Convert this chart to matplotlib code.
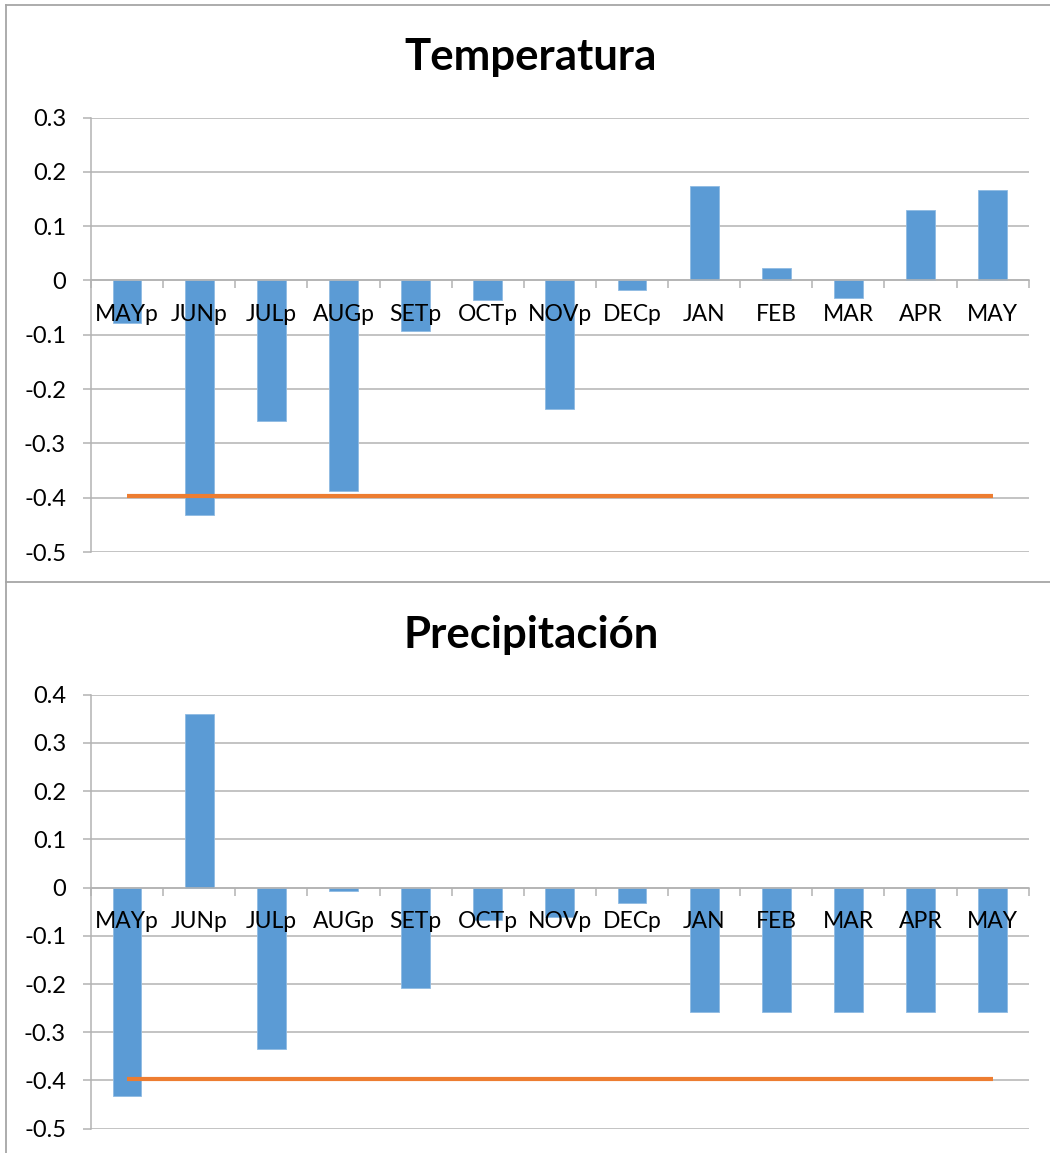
import matplotlib
matplotlib.use('Agg')
import matplotlib.pyplot as plt
from matplotlib.lines import Line2D
from matplotlib.ticker import FixedLocator, FuncFormatter, NullFormatter
import numpy as np

# Data
months=['MAYp','JUNp','JULp','AUGp','SETp','OCTp','NOVp','DECp','JAN','FEB','MAR','APR','MAY']
temperatura=[-0.078,-0.431,-0.258,-0.388,-0.094,-0.036,-0.236,-0.018,0.174,0.022,-0.033,0.129,0.167]
precipitacion=[-0.433,0.359,-0.335,-0.007,-0.208,-0.067,-0.062,-0.032,-0.259,-0.259,-0.259,-0.259,-0.259]
umbral=-0.396
temp_yticks=[0.3,0.2,0.1,0,-0.1,-0.2,-0.3,-0.4,-0.5]
prec_yticks=[0.4,0.3,0.2,0.1,0,-0.1,-0.2,-0.3,-0.4,-0.5]

bar_color='#5B9BD5'
line_color='#ED7D31'
grid_color='#b3b3b3'
plt.rcParams['font.family']=['Lato','DejaVu Sans']

W,H=1050,1153
fig=plt.figure(figsize=(W/100,H/100),dpi=100,facecolor='white')

def fmt(v,pos):
    v=round(v,2)
    if v==0:
        return '0'
    return ('%g'%v).replace('\u2212','-')

def draw_chart(ax,values,yticks,title,title_y):
    x=np.arange(len(months))
    ax.bar(x,values,width=0.4,color=bar_color,edgecolor='#8fbbe3',linewidth=0.6,zorder=2)
    ax.plot([x[0],x[-1]],[umbral,umbral],color=line_color,linewidth=3,
            solid_capstyle='butt',zorder=3)
    ax.set_xlim(-0.5,len(months)-0.5)
    ax.set_ylim(min(yticks),max(yticks))
    ax.set_yticks(yticks)
    ax.yaxis.set_major_formatter(FuncFormatter(fmt))
    ax.grid(axis='y',color=grid_color,linewidth=1.1)
    ax.set_axisbelow(True)
    for s in ['top','right']:
        ax.spines[s].set_visible(False)
    ax.spines['left'].set_color(grid_color)
    ax.spines['left'].set_linewidth(1.1)
    ax.spines['bottom'].set_color(grid_color)
    ax.spines['bottom'].set_linewidth(1.1)
    ax.spines['bottom'].set_position(('data',0))
    ax.spines['bottom'].set_zorder(2.6)
    # tick marks at category boundaries
    ax.xaxis.set_major_locator(FixedLocator(np.arange(len(months)+1)-0.5))
    ax.xaxis.set_major_formatter(NullFormatter())
    ax.tick_params(axis='x',direction='out',length=6,width=1.1,color=grid_color)
    ax.tick_params(axis='y',direction='out',length=6,width=1.1,color=grid_color,
                   pad=12,labelsize=17,labelcolor='black')
    # category names sit on top of the bars, just under the zero line
    for xi,name in zip(x,months):
        ax.annotate(name,xy=(xi,0),xytext=(0,-17),textcoords='offset points',
                    ha='center',va='top',fontsize=16.5,zorder=5)
    fig.text(531/W,1-title_y/H,title,ha='center',va='center',fontsize=31.5,fontweight='bold')

ax0=fig.add_axes([91/W,1-552/H,(1028.7-91)/W,(552-117.5)/H])
draw_chart(ax0,temperatura,temp_yticks,'Temperatura',57)

ax1=fig.add_axes([91/W,1-1128.7/H,(1028.7-91)/W,(1128.7-694.7)/H])
draw_chart(ax1,precipitacion,prec_yticks,'Precipitación',635)

# chart area borders
border=dict(color='#a6a6a6',linewidth=1.3,transform=fig.transFigure)
fig.add_artist(Line2D([6/W,1],[1-5/H,1-5/H],**border))
fig.add_artist(Line2D([6/W,6/W],[1-5/H,0],**border))
fig.add_artist(Line2D([6/W,1],[1-582/H,1-582/H],**border))

fig.savefig('out.png',dpi=100,facecolor='white')
